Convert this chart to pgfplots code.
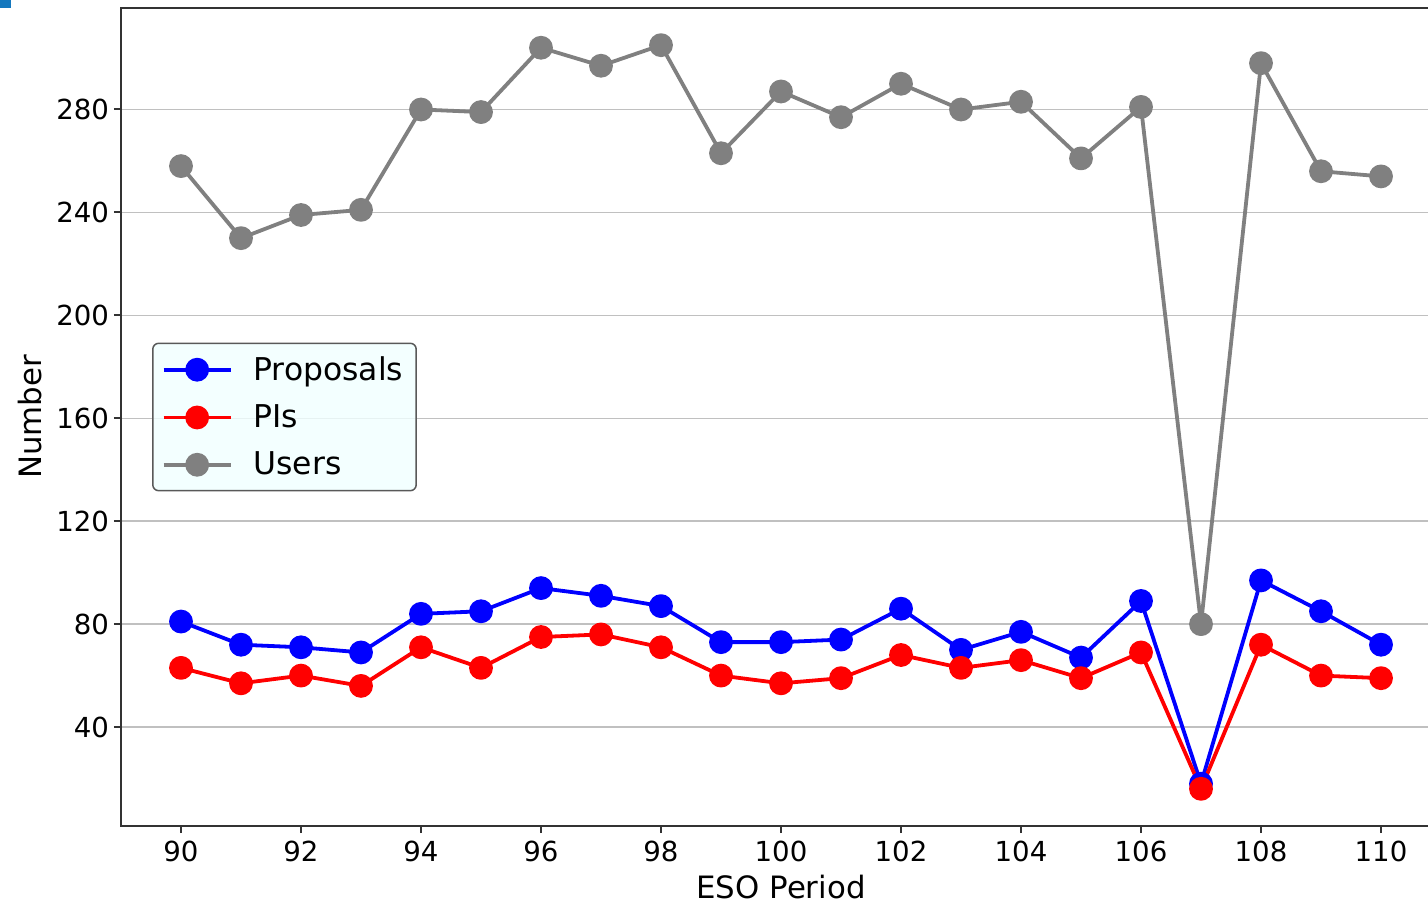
\documentclass[border=0pt]{standalone}
\usepackage{fontspec}
\setmainfont{DejaVu Sans}
\usepackage{pgfplots}
\usepackage{pgfplotstable}
\pgfplotsset{compat=1.18}

\definecolor{gridgray}{RGB}{192,192,192}
\definecolor{usersgray}{RGB}{128,128,128}
\definecolor{legendfill}{RGB}{240,255,255}
\definecolor{cornerblue}{RGB}{20,120,190}

% Proposals, PIs and users per ESO period
\pgfplotstableread{
period proposals pis users
90   81  63  258
91   72  57  230
92   71  60  239
93   69  56  241
94   84  71  280
95   85  63  279
96   94  75  304
97   91  76  297
98   87  71  305
99   73  60  263
100  73  57  287
101  74  59  277
102  86  68  290
103  70  63  280
104  77  66  283
105  67  59  261
106  89  69  281
107  18  16   80
108  97  72  298
109  85  60  256
110  72  59  254
}\periodtable

\begin{document}
\begin{tikzpicture}
\begin{axis}[
  scale only axis,
  width=660pt, height=409pt,
  xmin=89, xmax=111,
  ymin=1.55, ymax=319.45,
  xtick={90,92,...,110},
  ytick={40,80,...,280},
  tick align=outside,
  xtick pos=left, ytick pos=left,
  major tick length=3.5pt,
  ymajorgrids,
  grid style={gridgray, line width=0.75pt},
  axis line style={black!80, line width=1pt},
  tick style={black!80, line width=1pt},
  /pgf/number format/assume math mode=true,
  /pgf/number format/1000 sep={},
  ticklabel style={font=\fontsize{13.8}{16}\selectfont},
  xticklabel style={yshift=-0.5pt},
  yticklabel style={xshift=1pt},
  xlabel={ESO Period},
  ylabel={Number},
  label style={font=\fontsize{15.4}{18}\selectfont},
  xlabel style={at={(rel axis cs:0.5,0)}, anchor=center, yshift=-30.5pt},
  ylabel style={at={(rel axis cs:0,0.5)}, anchor=center, yshift=45.5pt},
  legend cell align=left,
  legend style={
    at={(0.0235,0.5)}, anchor=west,
    fill=legendfill, fill opacity=0.8, draw opacity=1, text opacity=1,
    draw=black!65, line width=0.75pt, rounded corners=3pt,
    font=\fontsize{15.7}{18}\selectfont,
    inner xsep=4.5pt, inner ysep=4.5pt,
    row sep=6.7pt,
    nodes={inner sep=2pt},
    /tikz/every odd column/.append style={column sep=8.5pt},
  },
  legend image post style={opacity=1},
  legend image code/.code={%
    \draw[mark repeat=2, mark phase=2]
      plot coordinates {(0pt,0pt) (16.75pt,0pt) (33.5pt,0pt)};},
  every axis plot/.append style={line width=1.9pt, line join=round,
    mark=*, mark size=5pt},
]
\addplot[color=blue, mark options={fill=blue, draw=blue}]
  table[x=period, y=proposals] {\periodtable};
\addlegendentry{Proposals}
\addplot[color=red, mark options={fill=red, draw=red}]
  table[x=period, y=pis] {\periodtable};
\addlegendentry{PIs}
\addplot[color=usersgray, mark options={fill=usersgray, draw=usersgray}]
  table[x=period, y=users] {\periodtable};
\addlegendentry{Users}

\coordinate (bl) at (rel axis cs:0,0);
\coordinate (tl) at (rel axis cs:0,1);
\end{axis}
\fill[cornerblue] ([shift={(-60.5pt,4pt)}]tl) rectangle +(5.5pt,-4pt);
\pgfresetboundingbox
\useasboundingbox ([shift={(-60.5pt,-39pt)}]bl) rectangle ([shift={(653.5pt,4pt)}]tl);
\end{tikzpicture}
\end{document}
